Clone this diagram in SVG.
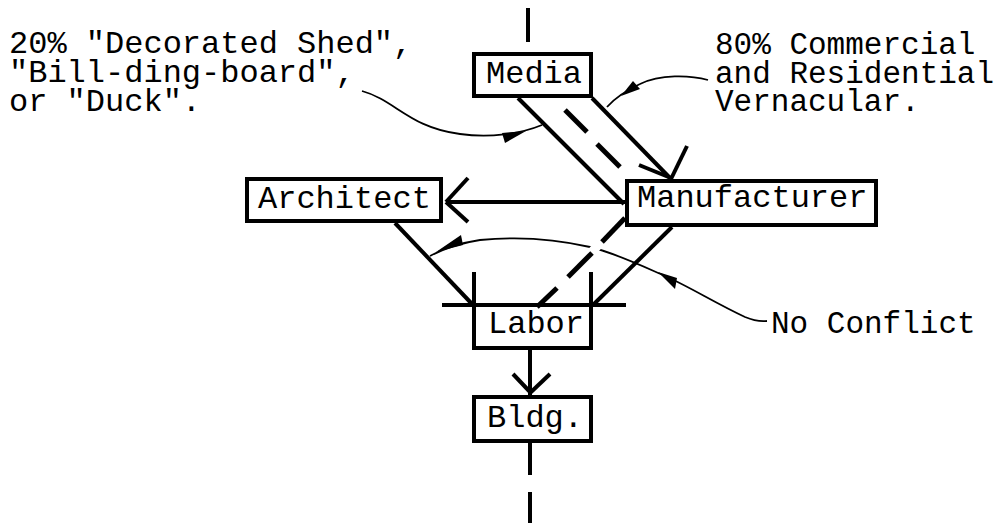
<svg xmlns="http://www.w3.org/2000/svg" width="997" height="523" viewBox="0 0 997 523">
  <style>
    .box { fill: #fff; stroke: #000; stroke-width: 4; }
    .lbl { font-family: "Liberation Mono", "Courier New", monospace; font-size: 32px; fill: #000; }
    .sm { font-size: 31px; }
    .ln { stroke: #000; stroke-width: 4; fill: none; stroke-linecap: butt; }
    .dash { stroke: #000; stroke-width: 5; fill: none; }
    .cv { stroke: #000; stroke-width: 1.8; fill: none; }
    .barb { fill: #000; stroke: none; }
  </style>
  <rect width="997" height="523" fill="#fff"/>

  <!-- connectors -->
  <g id="connectors">
    <!-- vertical axis -->
    <line class="ln" x1="528" y1="8" x2="528" y2="42"/>
    <line class="ln" x1="530" y1="443" x2="530" y2="475"/>
    <line class="ln" x1="530" y1="492" x2="530" y2="523"/>

    <!-- Media to Manufacturer -->
    <line class="ln" x1="518" y1="98" x2="624" y2="204"/>
    <line class="ln" x1="592" y1="98" x2="670" y2="178"/>
    <line class="ln" x1="639" y1="165" x2="671" y2="178"/>
    <line class="ln" x1="687" y1="146" x2="671" y2="179"/>
    <line class="dash" x1="565" y1="110" x2="587" y2="132"/>
    <line class="dash" x1="597" y1="144" x2="620" y2="167"/>

    <!-- Manufacturer to Architect -->
    <line class="ln" x1="626" y1="202" x2="446" y2="202"/>
    <line class="ln" x1="468" y1="178" x2="446" y2="202"/>
    <line class="ln" x1="468" y1="222" x2="446" y2="202"/>

    <!-- into Labor -->
    <line class="ln" x1="442" y1="305" x2="626" y2="305"/>
    <line class="ln" x1="474" y1="272" x2="474" y2="305"/>
    <line class="ln" x1="591" y1="272" x2="591" y2="305"/>
    <line class="ln" x1="395" y1="223" x2="473" y2="305"/>
    <line class="ln" x1="672" y1="227" x2="593" y2="305"/>

    <!-- annotation curves -->
    <path class="cv" d="M362,91 C395,100 410,128 460,134 C490,138 520,134 542,125"/>
    <polygon class="barb" points="502,133 505,143 526,131"/>

    <path class="cv" d="M708,80 C690,75 660,74 640,84 C625,91 615,98 607,107"/>
    <polygon class="barb" points="621,96 633,81 640,89"/>

    <path class="cv" d="M767,321 C758,322 752,320 745,317 C715,303 690,287 665,276 C640,265 615,253 590,247 C560,240 520,236 480,240 C460,243 445,248 430,256"/>
    <polygon class="barb" points="658,272 677,278 675,289"/>
    <polygon class="barb" points="436,252 461,235 463,245"/>

    <!-- dashed Manufacturer to Labor, breaking the curve where it crosses -->
    <line x1="612" y1="231" x2="582" y2="262" stroke="#fff" stroke-width="9"/>
    <line class="dash" x1="625" y1="218" x2="602" y2="242"/>
    <line class="dash" x1="592" y1="253" x2="568" y2="277"/>
    <line class="dash" x1="557" y1="288" x2="537" y2="307"/>

    <!-- Labor to Bldg -->
    <line class="ln" x1="530" y1="350" x2="530" y2="395"/>
    <line class="ln" x1="513" y1="374" x2="531" y2="393"/>
    <line class="ln" x1="550" y1="374" x2="530" y2="393"/>
  </g>

  <!-- nodes -->
  <g id="media">
    <rect class="box" x="474" y="54" width="117" height="42"/>
    <text class="lbl" x="486" y="83">Media</text>
  </g>
  <g id="architect">
    <rect class="box" x="247" y="179" width="194" height="42"/>
    <text class="lbl" x="258" y="208">Architect</text>
  </g>
  <g id="manufacturer">
    <rect class="box" x="627" y="181" width="249" height="44"/>
    <text class="lbl" x="637" y="207">Manufacturer</text>
  </g>
  <g id="labor">
    <path class="ln" d="M474,305 V348 H591 V305" stroke-width="3.5"/>
    <text class="lbl" x="488" y="333">Labor</text>
  </g>
  <g id="bldg">
    <rect class="box" x="474" y="397" width="117" height="44"/>
    <text class="lbl" x="487" y="427">Bldg.</text>
  </g>

  <!-- annotations -->
  <g id="note-left">
    <text class="lbl" x="9" y="53">20% "Decorated Shed",</text>
    <text class="lbl" x="9" y="82">"Bill-ding-board",</text>
    <text class="lbl" x="9" y="111">or "Duck".</text>
  </g>
  <g id="note-right">
    <text class="lbl sm" x="715" y="54">80% Commercial</text>
    <text class="lbl sm" x="715" y="83">and Residential</text>
    <text class="lbl sm" x="715" y="111">Vernacular.</text>
  </g>
  <g id="note-conflict">
    <text class="lbl sm" x="771" y="333">No Conflict</text>
  </g>
</svg>
